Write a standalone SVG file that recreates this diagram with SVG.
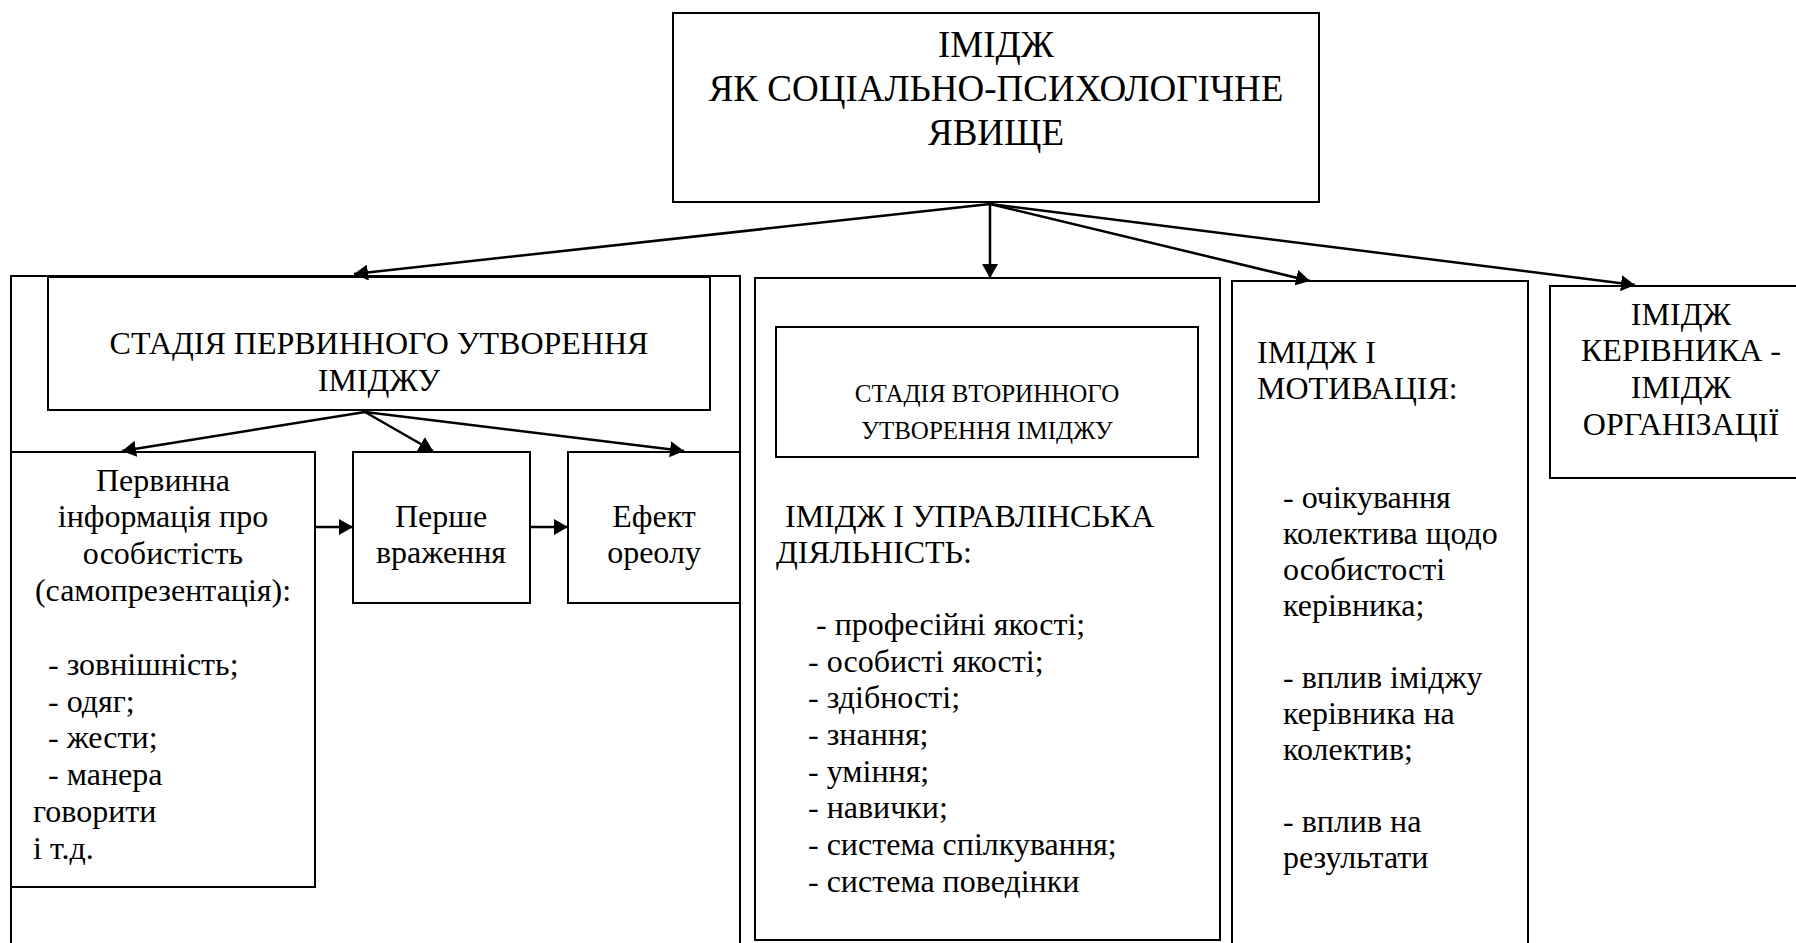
<svg xmlns="http://www.w3.org/2000/svg" width="1796" height="943" viewBox="0 0 1796 943">
<defs>
<style>
.b{fill:none;stroke:#000;stroke-width:2}
.c{fill:none;stroke:#000;stroke-width:2.5}
text{font-family:"Liberation Serif","Times New Roman",serif;fill:#000}
.t37{font-size:37px}
.t32{font-size:32px}
.t25{font-size:25px}
.m{text-anchor:middle}
</style>
<marker id="ah" viewBox="0 0 14 16" refX="14" refY="8" markerWidth="14" markerHeight="16" markerUnits="userSpaceOnUse" orient="auto">
<path d="M0,0 L14,8 L0,16 Z" fill="#000"/>
</marker>
</defs>
<rect width="1796" height="943" fill="#fff"/>

<g id="top">
<rect class="b" x="673" y="13" width="646" height="189"/>
<text class="t37 m" x="996" y="57">ІМІДЖ</text>
<text class="t37 m" x="996" y="101">ЯК СОЦІАЛЬНО-ПСИХОЛОГІЧНЕ</text>
<text class="t37 m" x="996" y="145">ЯВИЩЕ</text>
</g>

<g id="panel1">
<path class="b" d="M11,945 V276 H740 V945"/>
</g>

<g id="stage1">
<rect class="b" x="48" y="277" width="662" height="133"/>
<text class="t32 m" x="379" y="354">СТАДІЯ ПЕРВИННОГО УТВОРЕННЯ</text>
<text class="t32 m" x="379" y="391">ІМІДЖУ</text>
</g>

<g id="primary-info">
<rect class="b" x="11" y="452" width="304" height="435"/>
<text class="t32 m" x="163" y="491">Первинна</text>
<text class="t32 m" x="163" y="527">інформація про</text>
<text class="t32 m" x="163" y="564">особистість</text>
<text class="t32 m" x="163" y="601">(самопрезентація):</text>
<text class="t32" x="48" y="675">- зовнішність;</text>
<text class="t32" x="48" y="712">- одяг;</text>
<text class="t32" x="48" y="748">- жести;</text>
<text class="t32" x="48" y="785">- манера</text>
<text class="t32" x="33" y="822">говорити</text>
<text class="t32" x="33" y="859">і т.д.</text>
</g>

<g id="first-impression">
<rect class="b" x="353" y="452" width="177" height="151"/>
<text class="t32 m" x="441" y="527">Перше</text>
<text class="t32 m" x="441" y="563">враження</text>
</g>

<g id="halo">
<rect class="b" x="568" y="452" width="172" height="151"/>
<text class="t32 m" x="654" y="527">Ефект</text>
<text class="t32 m" x="654" y="563">ореолу</text>
</g>

<g id="panel2">
<rect class="b" x="755" y="278" width="465" height="662"/>
<text class="t32" x="785" y="527">ІМІДЖ І УПРАВЛІНСЬКА</text>
<text class="t32" x="776" y="563">ДІЯЛЬНІСТЬ:</text>
<text class="t32" x="816" y="635">- професійні якості;</text>
<text class="t32" x="808" y="672">- особисті якості;</text>
<text class="t32" x="808" y="708">- здібності;</text>
<text class="t32" x="808" y="745">- знання;</text>
<text class="t32" x="808" y="782">- уміння;</text>
<text class="t32" x="808" y="818">- навички;</text>
<text class="t32" x="808" y="855">- система спілкування;</text>
<text class="t32" x="808" y="892">- система поведінки</text>
</g>

<g id="stage2">
<rect class="b" x="776" y="327" width="422" height="130"/>
<text class="t25 m" x="987" y="402">СТАДІЯ ВТОРИННОГО</text>
<text class="t25 m" x="987" y="439">УТВОРЕННЯ ІМІДЖУ</text>
</g>

<g id="motivation">
<path class="b" d="M1232,945 V281 H1528 V945"/>
<text class="t32" x="1257" y="363">ІМІДЖ І</text>
<text class="t32" x="1257" y="399">МОТИВАЦІЯ:</text>
<text class="t32" x="1283" y="508">- очікування</text>
<text class="t32" x="1283" y="544">колектива щодо</text>
<text class="t32" x="1283" y="580">особистості</text>
<text class="t32" x="1283" y="616">керівника;</text>
<text class="t32" x="1283" y="688">- вплив іміджу</text>
<text class="t32" x="1283" y="724">керівника на</text>
<text class="t32" x="1283" y="760">колектив;</text>
<text class="t32" x="1283" y="832">- вплив на</text>
<text class="t32" x="1283" y="868">результати</text>
</g>

<g id="leader-org">
<path class="b" d="M1800,286 H1550 V478 H1800"/>
<text class="t32 m" x="1681" y="325">ІМІДЖ</text>
<text class="t32 m" x="1681" y="361">КЕРІВНИКА -</text>
<text class="t32 m" x="1681" y="398">ІМІДЖ</text>
<text class="t32 m" x="1681" y="435">ОРГАНІЗАЦІЇ</text>
</g>

<g id="connectors">
<line class="c" x1="990" y1="204" x2="354" y2="274" marker-end="url(#ah)"/>
<line class="c" x1="990" y1="204" x2="990" y2="278" marker-end="url(#ah)"/>
<line class="c" x1="990" y1="204" x2="1310" y2="281" marker-end="url(#ah)"/>
<line class="c" x1="990" y1="204" x2="1635" y2="285" marker-end="url(#ah)"/>
<line class="c" x1="365" y1="412" x2="122" y2="451" marker-end="url(#ah)"/>
<line class="c" x1="365" y1="412" x2="433" y2="451" marker-end="url(#ah)"/>
<line class="c" x1="365" y1="412" x2="684" y2="451" marker-end="url(#ah)"/>
<line class="c" x1="315" y1="527" x2="353" y2="527" marker-end="url(#ah)"/>
<line class="c" x1="530" y1="527" x2="568" y2="527" marker-end="url(#ah)"/>
</g>
</svg>
